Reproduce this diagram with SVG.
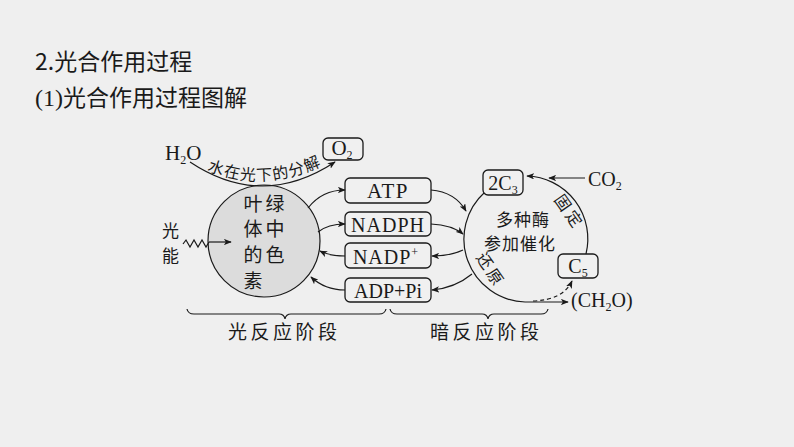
<svg xmlns="http://www.w3.org/2000/svg" width="794" height="447" viewBox="0 0 794 447">
<style>
.cjk{font-family:"Noto Sans CJK SC","Noto Sans",sans-serif;fill:#1a1a1a}
.ser{font-family:"Liberation Serif",serif;fill:#1a1a1a}
.ln{fill:none;stroke:#1a1a1a;stroke-width:1.2}
.box{fill:#f0f0f0;stroke:#1a1a1a;stroke-width:1.3}
.arr{marker-end:url(#ah)}
</style>
<defs>
<marker id="ah" viewBox="0 0 10 8" refX="9" refY="4" markerWidth="8" markerHeight="6.4" markerUnits="userSpaceOnUse" orient="auto">
<path d="M0,0 L10,4 L0,8 L2.5,4 z" fill="#1a1a1a"/>
</marker>
<path id="tp" d="M204,169 Q263,195 325,164"/>
</defs>
<rect width="794" height="447" fill="#efefef"/>

<g id="title">
<text class="cjk" x="35" y="70" font-size="23">2.光合作用过程</text>
<text x="35" y="106" font-size="23"><tspan class="ser" font-size="24">(1)</tspan><tspan class="cjk">光合作用过程图解</tspan></text>
</g>

<g id="pigment">
<circle cx="264" cy="241" r="56" fill="#dcdcdc" stroke="#1a1a1a" stroke-width="1.2"/>
<g class="cjk" font-size="19" text-anchor="middle">
<text x="253" y="211">叶</text><text x="275" y="211">绿</text>
<text x="253" y="236">体</text><text x="275" y="236">中</text>
<text x="253" y="262">的</text><text x="275" y="262">色</text>
<text x="253" y="288">素</text>
</g>
</g>

<g id="light">
<text class="cjk" x="162" y="237" font-size="17">光</text>
<text class="cjk" x="162" y="262" font-size="17">能</text>
</g>

<g id="h2o"><text class="ser" x="165" y="160" font-size="21">H<tspan font-size="12" dy="4">2</tspan><tspan dy="-4">O</tspan></text></g>
<g id="o2"><rect class="box" x="323" y="138" width="40" height="22" rx="5"/><text class="ser" x="342" y="155" font-size="21" text-anchor="middle">O<tspan font-size="12" dy="4">2</tspan></text></g>

<g id="atp"><rect class="box" x="345" y="178" width="86" height="25" rx="5"/><text class="ser" x="388" y="198" font-size="21" letter-spacing="1.5" text-anchor="middle">ATP</text></g>
<g id="nadph"><rect class="box" x="345" y="212" width="86" height="24" rx="5"/><text class="ser" x="388" y="232" font-size="20" letter-spacing="1" text-anchor="middle">NADPH</text></g>
<g id="nadp"><rect class="box" x="345" y="243" width="86" height="25" rx="5"/><text class="ser" x="386" y="264" font-size="20" letter-spacing="1" text-anchor="middle">NADP<tspan font-size="12" dy="-8">+</tspan></text></g>
<g id="adp"><rect class="box" x="345" y="278" width="86" height="24" rx="5"/><text class="ser" x="388" y="298" font-size="20" text-anchor="middle">ADP+Pi</text></g>

<g id="calvin">
<path class="ln" d="M485,192 A63,63 0 0 0 525,302"/>
<path class="ln" d="M586,254 A63,63 0 0 0 527,176" marker-end="url(#ah)"/>
<text class="cjk" font-size="17" text-anchor="middle" x="523" y="226" letter-spacing="1">多种酶</text>
<text class="cjk" font-size="17" text-anchor="middle" x="520" y="250" letter-spacing="1">参加催化</text>
<text class="cjk" font-size="16" text-anchor="middle" transform="translate(558,206) rotate(55)">固</text>
<text class="cjk" font-size="16" text-anchor="middle" transform="translate(569,222) rotate(55)">定</text>
<text class="cjk" font-size="16" text-anchor="middle" transform="translate(480,264) rotate(55)">还</text>
<text class="cjk" font-size="16" text-anchor="middle" transform="translate(490,280) rotate(55)">原</text>
</g>
<g id="c3"><rect class="box" x="483" y="170" width="40" height="25" rx="5"/><text class="ser" x="503" y="190" font-size="20" text-anchor="middle">2C<tspan font-size="12" dy="4">3</tspan></text></g>
<g id="c5"><rect class="box" x="558" y="254" width="40" height="24" rx="5"/><text class="ser" x="578" y="273" font-size="20" text-anchor="middle">C<tspan font-size="12" dy="4">5</tspan></text></g>
<g id="co2"><text class="ser" x="588" y="186" font-size="20">CO<tspan font-size="12" dy="4">2</tspan></text></g>
<g id="ch2o"><text class="ser" x="571" y="307" font-size="20">(CH<tspan font-size="12" dy="4">2</tspan><tspan dy="-4">O)</tspan></text></g>

<g id="connectors">
<path class="ln arr" d="M190,162 Q262,210 335,162"/>
<text class="cjk" font-size="16"><textPath href="#tp" startOffset="50%" text-anchor="middle" letter-spacing="1">水在光下的分解</textPath></text>
<path class="ln" d="M183,244 L186,240 L190,247 L194,240 L198,247 L202,240 L206,247 L209,242"/>
<path class="ln arr" d="M209,242 L231,242"/>
<path class="ln arr" d="M308,208 Q322,190 345,190"/>
<path class="ln arr" d="M431,190 Q455,192 466,211"/>
<path class="ln arr" d="M318,232 Q328,224 345,224"/>
<path class="ln arr" d="M431,224 Q452,225 463,234"/>
<path class="ln arr" d="M463,250 Q450,256 432,256"/>
<path class="ln arr" d="M345,256 Q330,256 320,251"/>
<path class="ln arr" d="M472,274 Q455,288 432,290"/>
<path class="ln arr" d="M345,290 Q325,290 311,277"/>
<path class="ln arr" d="M585,178 L549,178"/>
<path class="ln arr" d="M525,302 L568,302"/>
<path class="ln arr" d="M533,301 Q563,300 572,281" stroke-dasharray="4,3"/>
</g>

<g id="braces">
<path class="ln" d="M187,309 Q188,314 194,314 L279,314 Q284,314 285,319 Q286,314 291,314 L379,314 Q385,314 386,309"/>
<path class="ln" d="M390,309 Q391,314 397,314 L482,314 Q487,314 488,319 Q489,314 494,314 L541,314 Q547,314 548,309"/>
<text class="cjk" x="228" y="339" font-size="19" letter-spacing="3.5">光反应阶段</text>
<text class="cjk" x="430" y="339" font-size="19" letter-spacing="3.5">暗反应阶段</text>
</g>
</svg>
